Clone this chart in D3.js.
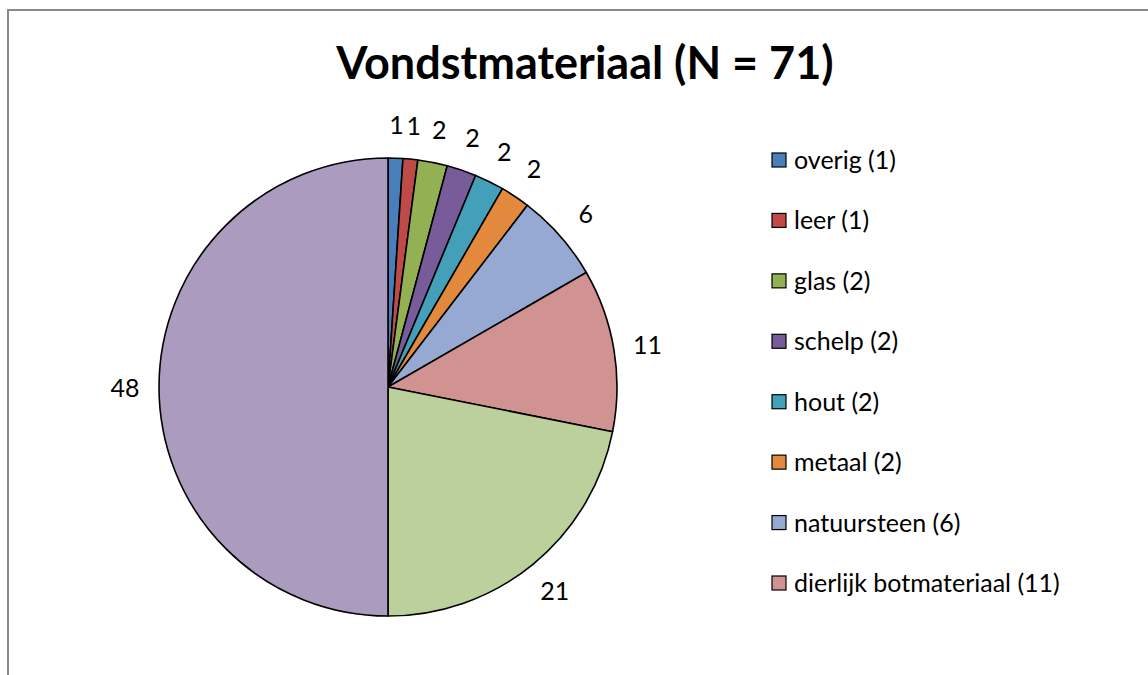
<!DOCTYPE html>
<html lang="nl">
<head>
  <meta charset="UTF-8">
  <title>Vondstmateriaal</title>
  <style>
    html,
    body {
      margin: 0;
      width: 100%;
      height: 100%;
      overflow: hidden;
      background: #fff;
    }

    svg {
      display: block;
    }

    text {
      font-family: Lato, 'Open Sans', sans-serif;
      fill: #000;
    }
  </style>
</head>

<body>
  <div id="chart"></div>

  <script src="https://cdn.jsdelivr.net/npm/d3@7"></script>
  <script>
    // data (last two categories fall outside the visible legend)
    const categories = ['overig', 'leer', 'glas', 'schelp', 'hout', 'metaal', 'natuursteen',
      'dierlijk botmateriaal', 'categorie 9', 'categorie 10']
    const values = [1, 1, 2, 2, 2, 2, 6, 11, 21, 48]
    const colors = ['#4A7EBB', '#BE4B48', '#93B053', '#785C9A', '#44A0B9', '#E2893E',
      '#95A9D2', '#D19392', '#BBD09B', '#AA9BBF']
    const legendCount = 8
    const title = 'Vondstmateriaal (N = 71)'

    const width = 1148
    const height = 675
    const center = { x: 388, y: 387 }
    const radius = 229
    const labelRadius = 263

    const svg = d3.select('#chart').append('svg')
      .attr('width', width)
      .attr('height', height)

    // chart area frame (only top and left edges are visible)
    svg.append('path')
      .attr('d', `M8,${height} V10 H${width}`)
      .attr('fill', 'none')
      .attr('stroke', '#898989')
      .attr('stroke-width', 2)

    svg.append('text')
      .attr('x', 585)
      .attr('y', 79)
      .attr('text-anchor', 'middle')
      .style('font-size', '45px')
      .style('font-weight', 'bold')
      .text(title)

    const color = d3.scaleOrdinal().domain(categories).range(colors)

    const pie = d3.pie()
      .sort(null)
      .value(d => d.value)

    const arc = d3.arc()
      .innerRadius(0)
      .outerRadius(radius)

    const data = categories.map((c, i) => ({ name: c, value: values[i] }))
    const arcs = pie(data)

    const g = svg.append('g')
      .attr('transform', `translate(${center.x}, ${center.y})`)

    g.selectAll('.slice')
      .data(arcs)
      .join('path')
      .attr('class', 'slice')
      .attr('d', arc)
      .attr('fill', d => color(d.data.name))
      .attr('stroke', '#000')
      .attr('stroke-width', 1.6)
      .attr('stroke-linejoin', 'round')

    g.selectAll('.label')
      .data(arcs)
      .join('text')
      .attr('class', 'label')
      .attr('x', d => labelRadius * Math.sin((d.startAngle + d.endAngle) / 2))
      .attr('y', d => -labelRadius * Math.cos((d.startAngle + d.endAngle) / 2))
      .attr('dy', '0.38em')
      .attr('text-anchor', 'middle')
      .style('font-size', '25px')
      .text(d => d.data.value)

    // legend
    const legendItems = data.slice(0, legendCount)
    const rowY = d3.scalePoint()
      .domain(legendItems.map(d => d.name))
      .range([160, 583])

    const legend = svg.append('g')
      .selectAll('.legend-item')
      .data(legendItems)
      .join('g')
      .attr('class', 'legend-item')
      .attr('transform', d => `translate(772, ${rowY(d.name)})`)

    legend.append('rect')
      .attr('x', 0)
      .attr('y', -7)
      .attr('width', 14)
      .attr('height', 14)
      .attr('fill', d => color(d.name))
      .attr('stroke', '#000')
      .attr('stroke-width', 1.2)

    legend.append('text')
      .attr('x', 22)
      .attr('dy', '0.36em')
      .style('font-size', '25px')
      .text(d => `${d.name} (${d.value})`)
  </script>
</body>

</html>
